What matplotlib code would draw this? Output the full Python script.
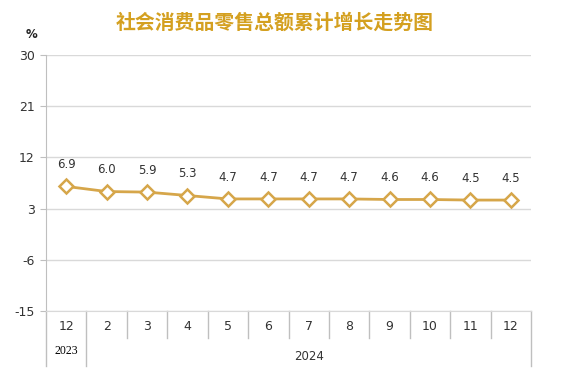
import matplotlib
matplotlib.use("Agg")
import matplotlib.pyplot as plt
from matplotlib.lines import Line2D

plt.rcParams['font.family'] = ['Noto Sans CJK SC', 'DejaVu Sans']

title = "社会消费品零售总额累计增长走势图"
months = ["12", "2", "3", "4", "5", "6", "7", "8", "9", "10", "11", "12"]
years = ["2023", "2024"]
year_spans = [1, 11]
values = [6.9, 6.0, 5.9, 5.3, 4.7, 4.7, 4.7, 4.7, 4.6, 4.6, 4.5, 4.5]
yticks = [-15, -6, 3, 12, 21, 30]

line_color = "#D6A64A"
title_color = "#D4A020"
grid_color = "#D9D9D9"

fig = plt.figure(figsize=(5.63, 3.77), dpi=100)
ax = fig.add_axes([46/563, 1-311/377, (531-46)/563, (311-55)/377])

x = list(range(len(values)))
ax.plot(x, values, color=line_color, lw=2.0, marker='D', markersize=7.5,
        markerfacecolor='white', markeredgecolor=line_color, markeredgewidth=1.8, zorder=3)
for xi, v in zip(x, values):
    ax.annotate(f"{v:.1f}", (xi, v), xytext=(0, 11), textcoords='offset points',
                ha='center', va='bottom', fontsize=8.5, color='#333333',
                family='DejaVu Sans')

ax.set_xlim(-0.5, len(values) - 0.5)
ax.set_ylim(-15, 30)
ax.set_yticks(yticks)
ax.set_yticklabels([str(t) for t in yticks], fontsize=9, color='#333333', family='DejaVu Sans')
ax.yaxis.grid(True, color=grid_color, lw=1)
ax.set_axisbelow(True)
ax.tick_params(axis='y', length=4, color='#BFBFBF', pad=4)
ax.set_xticks([])
for s in ['top', 'right']:
    ax.spines[s].set_visible(False)
ax.spines['left'].set_color('#BFBFBF')
ax.spines['bottom'].set_color(grid_color)

trans = ax.get_xaxis_transform()
for i, m in enumerate(months):
    ax.text(i, -16/256, m, transform=trans, ha='center', va='center', fontsize=9,
            color='#333333', family='DejaVu Sans')
year_bounds = [-0.5]
for sp in year_spans:
    year_bounds.append(year_bounds[-1] + sp)
for b in [i - 0.5 for i in range(len(months) + 1)]:
    full = any(abs(b - yb) < 1e-6 for yb in year_bounds)
    ybot = -55/256 if full else -27/256
    ax.add_line(Line2D([b, b], [0, ybot], transform=trans, color='#BFBFBF', lw=1, clip_on=False))

start = -0.5
for yr, sp in zip(years, year_spans):
    c = start + sp / 2
    if yr == "2023":
        ax.text(c, -40/256, yr, transform=trans, ha='center', va='center', fontsize=8.5,
                color='#000000', family='Liberation Serif')
    else:
        ax.text(c, -46/256, yr, transform=trans, ha='center', va='center', fontsize=8.5,
                color='#333333', family='DejaVu Sans')
    start += sp

fig.text(32/563, 1-35/377, "%", ha='center', va='center', fontsize=8.5, fontweight='bold',
         color='#222222', family='DejaVu Sans')
fig.text(275/563, 1-22/377, title, ha='center', va='center', fontsize=14.3,
         fontweight='bold', color=title_color)

fig.savefig("out.png", dpi=100)
